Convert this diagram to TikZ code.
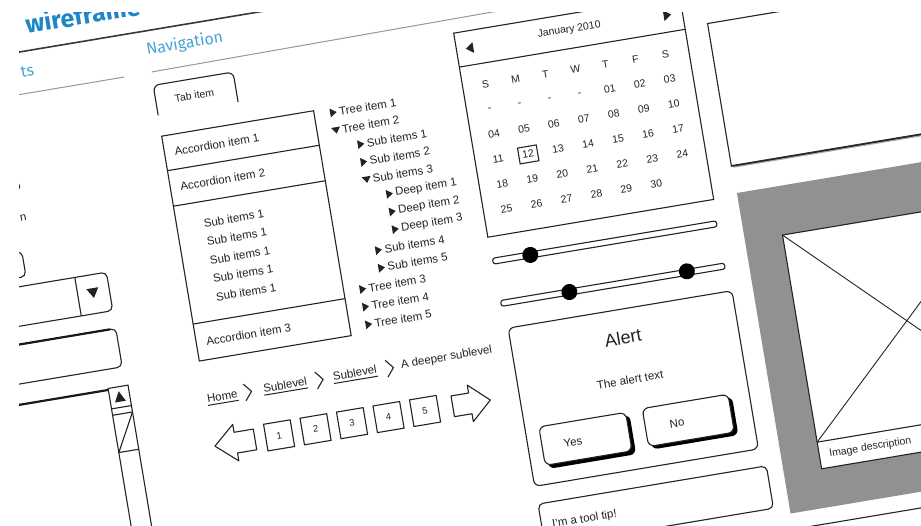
\documentclass[tikz,border=0pt]{standalone}
\usepackage{fontspec}
\setmainfont{Liberation Sans}
\newfontfamily\headfont{Fira Sans}
\definecolor{wfblue}{RGB}{28,134,199}
\definecolor{navblue}{RGB}{72,162,216}
\definecolor{framegray}{RGB}{145,145,145}
\definecolor{ink}{RGB}{35,35,35}
\begin{document}
\begin{tikzpicture}[x=1pt,y=-1pt,
  wfline/.style={draw=ink,line width=1.1pt},
  wflabel/.style={font=\fontsize{11.5}{13}\selectfont,text=ink,inner sep=0pt},
  wfsmall/.style={font=\fontsize{10.5}{12}\selectfont,text=ink,inner sep=0pt},
  wftri/.style={fill=ink,draw=none},
  wfshadow/.style={fill=black,draw=none},
  wfhead/.style={font=\headfont\fontsize{16}{16}\selectfont,text=navblue,inner sep=0pt,anchor=base west}]
\useasboundingbox (0,0) rectangle (921,526);
\fill[white] (0,0) rectangle (921,526);
\begin{scope}
\clip (19,13) rectangle (921,526);
% the whole sheet is tilted
\begin{scope}[rotate=9.5, transform shape]

% ---------- headings ----------
\node[anchor=base west,inner sep=0pt,font=\headfont\bfseries\fontsize{25}{25}\selectfont,text=wfblue] (title) at (21,38) {wireframe};
\draw[line width=1.6pt,black!78] (-60,54.5) -- (420,54.5);
\node[wfhead] (nav) at (136,78.5) {Navigation};
\node[wfhead,anchor=base east] (comp) at (22,80) {ts};
\draw[black!40,line width=1pt] (-60,96.5) -- (110,96.5);
\draw[black!40,line width=1pt] (138,96) -- (560,92.5);

% ---------- left column ----------
\node[wflabel,anchor=base east] (optA) at (-10,190) {o};
\node[wflabel,anchor=base east] (optB) at (-9.5,221.4) {n};
\draw[wfline,rounded corners=5pt] (-90,251.6) -- (-20,251.6) -- (-20,277) -- (-90,277);
% combo box
\draw[wfline,rounded corners=5pt] (-130,286) -- (60,286) -- (60,325) -- (-130,325);
\draw[wfline] (28,286) -- (28,325);
\fill[wftri] (37.5,299.5) -- (49.5,299.5) -- (43.5,309.5) -- cycle;
% text field
\draw[wfline,rounded corners=5pt] (-130,343) -- (60,343) -- (60,382) -- (-130,382);
\draw[line width=2.2pt,black!90] (-130,343) -- (54,343);
% list box with scroll bar
\draw[line width=2.2pt,black!90] (-130,402.5) -- (42.5,402.5);
\draw[wfline] (42.5,401) rectangle (62.7,600);
\draw[wfline] (42.5,421.7) -- (62.7,421.7);
\draw[wfline] (42.5,428.2) -- (62.7,428.2);
\draw[wfline] (42.5,466) -- (62.7,466);
\draw[wfline] (62.7,428.2) -- (42.5,466);
\fill[wftri] (47,416) -- (58,416) -- (52.5,405.5) -- cycle;

% ---------- tab ----------
\draw[wfline,rounded corners=6pt] (137,140) -- (137,109.5) -- (218,109.5) -- (218,140);
\node[wflabel,font=\fontsize{10.5}{12}\selectfont] (tab) at (176,126) {Tab item};

% ---------- accordion ----------
\draw[wfline] (137,161) rectangle (291,389);
\draw[wfline] (137,196) -- (291,196);
\draw[wfline] (137,232) -- (291,232);
\draw[wfline] (137,351.5) -- (291,351.5);
\node[wflabel,anchor=west] (acc1) at (147,178.5) {Accordion item 1};
\node[wflabel,anchor=west] (acc2) at (147,214) {Accordion item 2};
\foreach \i in {0,...,4}
  \node[wflabel,anchor=west] (accsub\i) at (164,{254+18.7*\i}) {Sub items 1};
\node[wflabel,anchor=west] (acc3) at (147,371) {Accordion item 3};

% ---------- tree ----------
\foreach \k/\lvl/\open/\txt in {
  0/0/0/Tree item 1, 1/0/1/Tree item 2, 2/1/0/Sub items 1, 3/1/0/Sub items 2,
  4/1/1/Sub items 3, 5/2/0/Deep item 1, 6/2/0/Deep item 2, 7/2/0/Deep item 3,
  8/1/0/Sub items 4, 9/1/0/Sub items 5, 10/0/0/Tree item 3, 11/0/0/Tree item 4,
  12/0/0/Tree item 5}{
  \pgfmathsetmacro\sx{{310,332,352}[\lvl]}
  \pgfmathsetmacro\ty{166+17.9*\k}
  \ifnum\open=1
    \fill[wftri] (\sx-4.5,\ty-3) -- (\sx+4.5,\ty-3) -- (\sx,\ty+3.5) -- cycle;
  \else
    \fill[wftri] (\sx-3,\ty-4.5) -- (\sx+3.5,\ty) -- (\sx-3,\ty+4.5) -- cycle;
  \fi
  \node[wflabel,anchor=west] (tree\k) at (\sx+6,\ty) {\txt};
}

% ---------- calendar ----------
\draw[wfline] (442,107.6) rectangle (671,314.5);
\draw[wfline] (442,142) -- (671,142);
\node[wfsmall] (month) at (556.5,123.5) {January 2010};
\fill[wftri] (451.5,125) -- (459,119.5) -- (459,130.5) -- cycle;
\fill[wftri] (659.5,125) -- (652,119.5) -- (652,130.5) -- cycle;
\foreach \d [count=\i from 0] in {S,M,T,W,T,F,S}
  \node[wfsmall] (dh\i) at ({465+30.4*\i},163.5) {\d};
\foreach \row [count=\r] in {{-,-,-,-,01,02,03},{04,05,06,07,08,09,10},
    {11,12,13,14,15,16,17},{18,19,20,21,22,23,24},{25,26,27,28,29,30}}{
  \foreach \d [count=\i from 0] in \row
    \node[wfsmall] (day\r-\i) at ({465+30.4*\i},{163.5+25.3*\r}) {\d};
}
\draw[wfline] (486,231.5) rectangle (505,247.5);

% ---------- sliders ----------
\draw[wfline,fill=white,rounded corners=2.5pt] (443,336) rectangle (670,342);
\fill[black] (481,339) circle (8);
\draw[wfline,fill=white,rounded corners=2.5pt] (444,379) rectangle (671,385);
\fill[black] (513.4,382) circle (8);
\fill[black] (632.7,381) circle (8);

% ---------- alert ----------
\draw[wfline,rounded corners=6pt] (447,407.5) rectangle (674,568);
\node[inner sep=0pt,font=\fontsize{18}{20}\selectfont,text=ink] (alert) at (558.7,436) {Alert};
\node[wflabel] (alerttext) at (558.7,478.5) {The alert text};
\fill[wfshadow,rounded corners=6pt] (464,513) rectangle (552.5,553);
\draw[wfline,fill=white,rounded corners=6pt] (461,510) rectangle (549,549);
\node[wflabel] (yes) at (492,531) {Yes};
\fill[wfshadow,rounded corners=6pt] (569,512) rectangle (656.5,551);
\draw[wfline,fill=white,rounded corners=6pt] (566,509) rectangle (653,547.5);
\node[wflabel] (no) at (598,529) {No};

% ---------- tool tip ----------
\draw[wfline,rounded corners=5pt] (447.5,586) rectangle (679,629);
\node[wflabel,anchor=west] (tip) at (458,609) {I'm a tool tip!};

% ---------- right column ----------
\fill[black!35] (696,286.5) -- (1000,286.5) -- (1000,283.5) -- (696,283.5) -- cycle;
\draw[wfline] (1000,140) -- (694,140) -- (694,284.5) -- (1000,284.5);
\draw[line width=1.5pt,black!85] (694,284.5) -- (1000,284.5);
% image placeholder
\fill[framegray] (695,312) rectangle (990,637);
\draw[wfline,fill=white] (733,361) rectangle (950,598);
\draw[wfline] (733,571) -- (950,571);
\draw[wfline,line width=0.9pt] (733,361) -- (950,571);
\draw[wfline,line width=0.9pt] (733,571) -- (950,361);
\node[wfsmall,anchor=west] (caption) at (743,585) {Image description};
\draw[wfline] (700,653) -- (1000,653);

% ---------- breadcrumb ----------
\node[wflabel] (home) at (153.8,427.5) {Home};
\node[wflabel] (sub1) at (217.7,426.5) {Sublevel};
\node[wflabel] (sub2) at (288.4,426.5) {Sublevel};
\node[wflabel] (deep) at (381.5,426.5) {A deeper sublevel};
\foreach \n in {home,sub1,sub2}
  \draw[ink,line width=1pt] ([yshift=-2.5pt]\n.south west) -- ([yshift=-2.5pt]\n.south east);
\foreach \c in {180,252.6,323.9}
  \draw[ink,line width=1.1pt] (\c-3.5,419) -- (\c+3.5,427.5) -- (\c-3.5,436);

% ---------- pagination ----------
\draw[wfline,line join=round] (138.4,475.5) -- (159.5,457) -- (159.5,465) -- (179,465)
  -- (179,486) -- (159.5,486) -- (159.5,494) -- cycle;
\foreach \p in {1,...,5}
  \node[wfline,minimum size=27pt,inner sep=0pt,font=\fontsize{9.5}{10}\selectfont,text=ink]
    (page\p) at ({203.4+37*(\p-1)},475.5) {\p};
\draw[wfline,line join=round] (417.6,475.5) -- (397.3,457) -- (397.3,465) -- (379.5,465)
  -- (379.5,486) -- (397.3,486) -- (397.3,494) -- cycle;

\end{scope}
\end{scope}
\end{tikzpicture}
\end{document}
